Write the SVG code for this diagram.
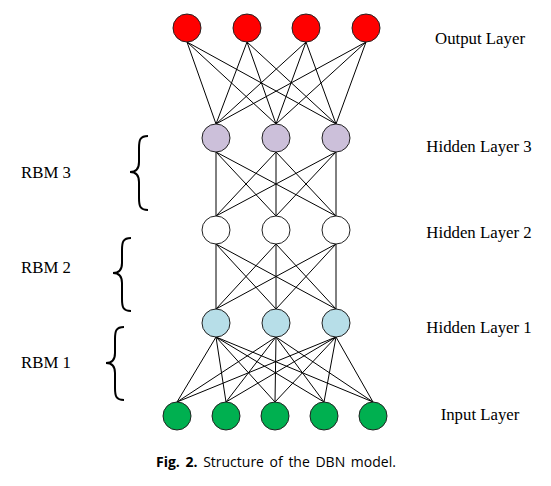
<svg xmlns="http://www.w3.org/2000/svg" width="551" height="486" viewBox="0 0 551 486">
<style>
.n{stroke:#222;stroke-width:1}
.out{fill:#FF0000}
.h3{fill:#CCC0DA}
.h2{fill:#FFFFFF}
.h1{fill:#B7DEE8}
.in{fill:#00B050}
#connectors line{stroke:#000;stroke-width:1}
.lbl{font-family:"Liberation Serif","Times New Roman",serif;font-size:16.8px;fill:#000}
.brace{fill:none;stroke:#000;stroke-width:2}
.cap{font-family:"Open Sans","Liberation Sans",sans-serif;font-size:14px;fill:#000;word-spacing:2px}
</style>
<rect width="551" height="486" fill="#fff"/>
<g id="connectors">
<line x1="187" y1="42" x2="216" y2="124"/><line x1="187" y1="42" x2="276" y2="124"/><line x1="187" y1="42" x2="336" y2="124"/>
<line x1="247" y1="42" x2="216" y2="124"/><line x1="247" y1="42" x2="276" y2="124"/><line x1="247" y1="42" x2="336" y2="124"/>
<line x1="306" y1="42" x2="216" y2="124"/><line x1="306" y1="42" x2="276" y2="124"/><line x1="306" y1="42" x2="336" y2="124"/>
<line x1="366" y1="42" x2="216" y2="124"/><line x1="366" y1="42" x2="276" y2="124"/><line x1="366" y1="42" x2="336" y2="124"/>
<line x1="216" y1="152" x2="216" y2="216"/><line x1="216" y1="152" x2="276" y2="216"/><line x1="216" y1="152" x2="336" y2="216"/>
<line x1="276" y1="152" x2="216" y2="216"/><line x1="276" y1="152" x2="276" y2="216"/><line x1="276" y1="152" x2="336" y2="216"/>
<line x1="336" y1="152" x2="216" y2="216"/><line x1="336" y1="152" x2="276" y2="216"/><line x1="336" y1="152" x2="336" y2="216"/>
<line x1="216" y1="244" x2="216" y2="309"/><line x1="216" y1="244" x2="276" y2="309"/><line x1="216" y1="244" x2="336" y2="309"/>
<line x1="276" y1="244" x2="216" y2="309"/><line x1="276" y1="244" x2="276" y2="309"/><line x1="276" y1="244" x2="336" y2="309"/>
<line x1="336" y1="244" x2="216" y2="309"/><line x1="336" y1="244" x2="276" y2="309"/><line x1="336" y1="244" x2="336" y2="309"/>
<line x1="216" y1="337" x2="177" y2="402"/><line x1="216" y1="337" x2="226" y2="402"/><line x1="216" y1="337" x2="275" y2="402"/><line x1="216" y1="337" x2="324" y2="402"/><line x1="216" y1="337" x2="373" y2="402"/>
<line x1="276" y1="337" x2="177" y2="402"/><line x1="276" y1="337" x2="226" y2="402"/><line x1="276" y1="337" x2="275" y2="402"/><line x1="276" y1="337" x2="324" y2="402"/><line x1="276" y1="337" x2="373" y2="402"/>
<line x1="336" y1="337" x2="177" y2="402"/><line x1="336" y1="337" x2="226" y2="402"/><line x1="336" y1="337" x2="275" y2="402"/><line x1="336" y1="337" x2="324" y2="402"/><line x1="336" y1="337" x2="373" y2="402"/>
</g>
<g id="output-layer">
<circle class="n out" cx="187" cy="28" r="14"/><circle class="n out" cx="247" cy="28" r="14"/><circle class="n out" cx="306" cy="28" r="14"/><circle class="n out" cx="366" cy="28" r="14"/>
</g>
<g id="hidden-layer-3">
<circle class="n h3" cx="216" cy="138" r="14"/><circle class="n h3" cx="276" cy="138" r="14"/><circle class="n h3" cx="336" cy="138" r="14"/>
</g>
<g id="hidden-layer-2">
<circle class="n h2" cx="216" cy="230" r="14"/><circle class="n h2" cx="276" cy="230" r="14"/><circle class="n h2" cx="336" cy="230" r="14"/>
</g>
<g id="hidden-layer-1">
<circle class="n h1" cx="216" cy="323" r="14"/><circle class="n h1" cx="276" cy="323" r="14"/><circle class="n h1" cx="336" cy="323" r="14"/>
</g>
<g id="input-layer">
<circle class="n in" cx="177" cy="416" r="14"/><circle class="n in" cx="226" cy="416" r="14"/><circle class="n in" cx="275" cy="416" r="14"/><circle class="n in" cx="324" cy="416" r="14"/><circle class="n in" cx="373" cy="416" r="14"/>
</g>
<g id="layer-labels">
<text class="lbl" x="480" y="44" text-anchor="middle">Output Layer</text>
<text class="lbl" x="479" y="152" text-anchor="middle">Hidden Layer 3</text>
<text class="lbl" x="479" y="238" text-anchor="middle">Hidden Layer 2</text>
<text class="lbl" x="479" y="333" text-anchor="middle">Hidden Layer 1</text>
<text class="lbl" x="480" y="420" text-anchor="middle">Input Layer</text>
</g>
<g id="rbm3">
<text class="lbl" x="21" y="178">RBM 3</text>
<path class="brace" d="M148,136 C140,136 139,140 139,148 L139,162 C139,169 136,172 130,172 C136,172 139,175 139,182 L139,198 C139,206 140,210 148,210"/>
</g>
<g id="rbm2">
<text class="lbl" x="21" y="273">RBM 2</text>
<path class="brace" d="M131,238 C123,238 122,242 122,250 L122,263 C122,270 119,273 113,273 C119,273 122,276 122,283 L122,299 C122,307 123,311 131,311"/>
</g>
<g id="rbm1">
<text class="lbl" x="21" y="368">RBM 1</text>
<path class="brace" d="M124,327 C116,327 115,331 115,339 L115,353 C115,360 112,363 106,363 C112,363 115,366 115,373 L115,388 C115,396 116,400 124,400"/>
</g>
<text class="cap" x="156" y="467"><tspan font-weight="bold">Fig. 2.</tspan>  Structure of the DBN model.</text>
</svg>
